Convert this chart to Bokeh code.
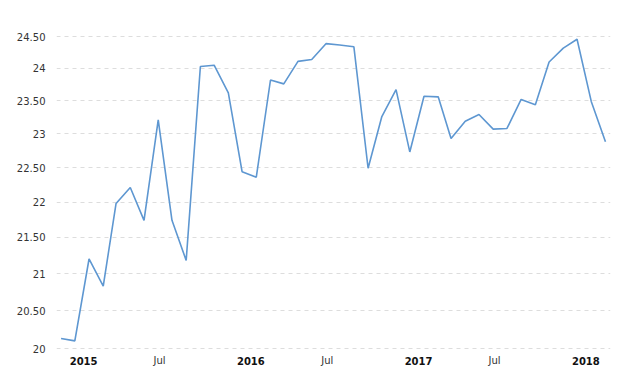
import pandas as pd
from bokeh.plotting import figure
from bokeh.models import Range1d, FixedTicker, LabelSet, ColumnDataSource
from bokeh.core.properties import value
from bokeh.embed import file_html
from bokeh.resources import INLINE

# ---- data ----
MONTHS = pd.period_range("2014-11", "2018-02", freq="M")
VALUES = [20.13, 20.10, 21.20, 20.83, 21.98, 22.21, 21.74, 23.21, 21.74, 21.18,
          24.03, 24.05, 23.62, 22.44, 22.36, 23.82, 23.76, 24.11, 24.14, 24.39,
          24.37, 24.34, 22.49, 23.26, 23.67, 22.73, 23.57, 23.56, 22.93, 23.19,
          23.29, 23.07, 23.08, 23.52, 23.44, 24.10, 24.32, 24.46, 23.49, 22.88]
Y_TICKS = [20, 20.5, 21, 21.5, 22, 22.5, 23, 23.5, 24, 24.5]
Y_TICK_LABELS = ["20", "20.50", "21", "21.50", "22", "22.50", "23", "23.50", "24", "24.50"]
YEAR_TICKS = ["2015-01-01", "2016-01-01", "2017-01-01", "2018-01-01"]
YEAR_LABELS = ["2015", "2016", "2017", "2018"]
JUL_TICKS = ["2015-07-01", "2016-07-01", "2017-07-01"]
JUL_LABELS = ["Jul", "Jul", "Jul"]

dates = MONTHS.to_timestamp() + pd.Timedelta(days=14)   # mid-month
Y_BASE = 20          # axis baseline value
Y_FLOOR = 19.69      # frame extends below the baseline to host the date labels

p = figure(width=629, height=382, output_backend="svg", toolbar_location=None,
           x_axis_type="datetime", y_axis_type="log",
           x_range=Range1d(pd.Timestamp("2014-11-05"), pd.Timestamp("2018-02-26")),
           y_range=Range1d(Y_FLOOR, 24.60),
           min_border_left=56, min_border_right=19, min_border_top=30, min_border_bottom=10)
p.outline_line_color = None
p.background_fill_color = "white"
p.border_fill_color = "white"

p.line(dates, VALUES, line_color="#5e97d1", line_width=1.6)

# y axis
ya = p.yaxis[0]
ya.ticker = FixedTicker(ticks=Y_TICKS, minor_ticks=[])
ya.major_label_overrides = {t: l for t, l in zip(Y_TICKS, Y_TICK_LABELS)}
ya.axis_line_color = None
ya.major_tick_line_color = None
ya.minor_tick_line_color = None
ya.major_label_standoff = 5
ya.major_label_text_font = "DejaVu Sans"
ya.major_label_text_font_size = "10px"
ya.major_label_text_color = "#333333"

# x axis: drawn as label sets on the baseline
p.xaxis.visible = False
year_src = ColumnDataSource(dict(x=[pd.Timestamp(d) for d in YEAR_TICKS],
                                 y=[Y_BASE] * len(YEAR_TICKS), text=YEAR_LABELS))
jul_src = ColumnDataSource(dict(x=[pd.Timestamp(d) for d in JUL_TICKS],
                                y=[Y_BASE] * len(JUL_TICKS), text=JUL_LABELS))
p.add_layout(LabelSet(x="x", y="y", text="text", source=year_src, y_offset=-12, x_offset=1,
                      text_align="center", text_baseline="middle",
                      text_font=value("DejaVu Sans"), text_font_size=value("10px"),
                      text_font_style=value("bold"), text_color=value("#111111")))
p.add_layout(LabelSet(x="x", y="y", text="text", source=jul_src, y_offset=-12, x_offset=-6,
                      text_align="center", text_baseline="middle",
                      text_font=value("DejaVu Sans"), text_font_size=value("10px"),
                      text_color=value("#333333")))

# grid
p.xgrid.grid_line_color = None
p.ygrid.ticker = FixedTicker(ticks=Y_TICKS, minor_ticks=[])
p.ygrid.grid_line_color = "#dddddd"
p.ygrid.grid_line_dash = "4 4"
p.ygrid.grid_line_width = 1

open("out.html", "w").write(file_html(p, INLINE))
